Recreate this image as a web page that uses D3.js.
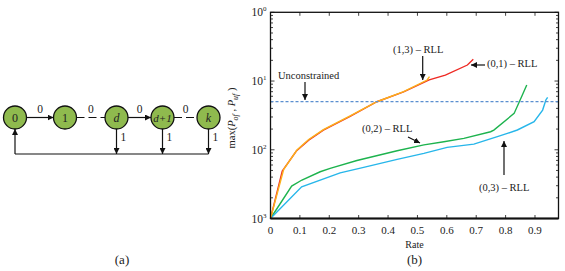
<!DOCTYPE html>
<html>
<head>
<meta charset="utf-8">
<script src="https://cdn.jsdelivr.net/npm/d3@7"></script>
<style>
  body { margin: 0; background: #fff; }
  svg text { font-family: "Liberation Serif", "Times New Roman", serif; fill: #222; }
</style>
</head>
<body>
<svg id="chart" width="565" height="271"></svg>
<script>
// ---- data for panel (b) ----
let rateRLL01 = [0, 0.04, 0.088, 0.13, 0.18, 0.271, 0.362, 0.453, 0.54, 0.595, 0.67, 0.69];
let valRLL01  = [0.001, 0.0049, 0.0096, 0.0138, 0.0193, 0.0305, 0.05, 0.0695, 0.104, 0.122, 0.171, 0.207];

let rateRLL13 = [0, 0.045, 0.09, 0.13, 0.18, 0.271, 0.362, 0.453, 0.533, 0.541];
let valRLL13  = [0.001, 0.0052, 0.0099, 0.0141, 0.0196, 0.031, 0.05, 0.0699, 0.1035, 0.116];

let rateRLL02 = [0, 0.072, 0.107, 0.169, 0.203, 0.294, 0.431, 0.522, 0.590, 0.658, 0.749, 0.760, 0.829, 0.857, 0.872];
let valRLL02  = [0.001, 0.00296, 0.00363, 0.00479, 0.00536, 0.00697, 0.00966, 0.0118, 0.0131, 0.01466, 0.0183, 0.0193, 0.0338, 0.0625, 0.0873];

let rateRLL03 = [0, 0.106, 0.237, 0.317, 0.431, 0.522, 0.601, 0.692, 0.772, 0.806, 0.840, 0.897, 0.926, 0.937, 0.943];
let valRLL03  = [0.001, 0.00289, 0.00462, 0.00555, 0.00724, 0.00887, 0.01084, 0.0121, 0.0155, 0.0173, 0.0194, 0.0256, 0.0378, 0.053, 0.058];

let unconstrained = 0.05;
let xTicks = [0, 0.1, 0.2, 0.3, 0.4, 0.5, 0.6, 0.7, 0.8, 0.9];
let yDecades = [1e-3, 1e-2, 1e-1, 1];
let yTickLabels = ["3", "2", "1", "0"];

// ---- data for panel (a): state diagram ----
let stateLabels = ["0", "1", "d", "d+1", "k"];
let stateX = [15, 65, 116.5, 162.5, 208.5];
let stateItalic = [false, false, true, true, true];
let edgeFrom = [0, 1, 2, 3];
let edgeDashed = [false, true, false, true];
let resetStates = [2, 3, 4];

const svg = d3.select("#chart");

// arrow marker
const defs = svg.append("defs");
defs.append("marker")
    .attr("id", "arrow")
    .attr("viewBox", "0 0 10 10")
    .attr("refX", 10).attr("refY", 5)
    .attr("markerWidth", 6).attr("markerHeight", 6)
    .attr("markerUnits", "userSpaceOnUse")
    .attr("orient", "auto")
  .append("path")
    .attr("d", "M0,0 L10,5 L0,10 z")
    .attr("fill", "#111");

// ================= panel (a) =================
let nodeY = 117.5, r = 11.5, loopY = 154;
let ga = svg.append("g");

edgeFrom.forEach((f, i) => {
  let x1 = stateX[f] + r, x2 = stateX[f + 1] - r;
  if (edgeDashed[i]) {
    ga.append("line")
      .attr("x1", x1).attr("x2", x2).attr("y1", nodeY).attr("y2", nodeY)
      .attr("stroke", "#111").attr("stroke-width", 1.2)
      .attr("stroke-dasharray", "8,4");
  } else {
    ga.append("line")
      .attr("x1", x1).attr("x2", x2).attr("y1", nodeY).attr("y2", nodeY)
      .attr("stroke", "#111").attr("stroke-width", 1.2)
      .attr("marker-end", "url(#arrow)");
  }
  ga.append("text")
    .attr("x", (x1 + x2) / 2).attr("y", nodeY - 5)
    .attr("text-anchor", "middle").attr("font-size", 11.5)
    .text("0");
});

// reset transitions on 1
resetStates.forEach(s => {
  ga.append("line")
    .attr("x1", stateX[s]).attr("x2", stateX[s])
    .attr("y1", nodeY + r).attr("y2", loopY)
    .attr("stroke", "#111").attr("stroke-width", 1.2)
    .attr("marker-end", "url(#arrow)");
  ga.append("text")
    .attr("x", stateX[s] + 4).attr("y", 141)
    .attr("font-size", 11.5).text("1");
});
ga.append("line")
  .attr("x1", stateX[0]).attr("x2", stateX[4])
  .attr("y1", loopY).attr("y2", loopY)
  .attr("stroke", "#111").attr("stroke-width", 1.2);
ga.append("line")
  .attr("x1", stateX[0]).attr("x2", stateX[0])
  .attr("y1", loopY).attr("y2", nodeY + r)
  .attr("stroke", "#111").attr("stroke-width", 1.2)
  .attr("marker-end", "url(#arrow)");

stateLabels.forEach((lab, i) => {
  ga.append("circle")
    .attr("cx", stateX[i]).attr("cy", nodeY).attr("r", r)
    .attr("fill", "#8fba4e").attr("stroke", "#111").attr("stroke-width", 1.3);
  ga.append("text")
    .attr("x", stateX[i]).attr("y", nodeY + 4)
    .attr("text-anchor", "middle")
    .attr("font-size", lab.length > 1 ? 11 : 12)
    .attr("font-style", stateItalic[i] ? "italic" : "normal")
    .text(lab);
});

ga.append("text")
  .attr("x", 122).attr("y", 264)
  .attr("text-anchor", "middle").attr("font-size", 13)
  .text("(a)");

// ================= panel (b) =================
let pLeft = 270.5, pRight = 558.5, pTop = 12.3, pBottom = 218.5;

let x = d3.scaleLinear().domain([0, 0.98]).range([pLeft, pRight]);
let y = d3.scaleLog().domain([1e-3, 1]).range([pBottom, pTop]);

let gb = svg.append("g");

// minor log ticks (both sides)
let minor = [];
yDecades.slice(0, 3).forEach(d => { for (let m = 2; m <= 9; m++) minor.push(d * m); });

let tickLines = gb.append("g").attr("stroke", "#111").attr("stroke-width", 0.8);
minor.forEach(v => {
  tickLines.append("line").attr("x1", pLeft).attr("x2", pLeft + 2.5).attr("y1", y(v)).attr("y2", y(v));
  tickLines.append("line").attr("x1", pRight).attr("x2", pRight - 2.5).attr("y1", y(v)).attr("y2", y(v));
});
yDecades.forEach(v => {
  tickLines.append("line").attr("x1", pLeft).attr("x2", pLeft + 4).attr("y1", y(v)).attr("y2", y(v));
  tickLines.append("line").attr("x1", pRight).attr("x2", pRight - 4).attr("y1", y(v)).attr("y2", y(v));
});
xTicks.forEach(v => {
  tickLines.append("line").attr("x1", x(v)).attr("x2", x(v)).attr("y1", pBottom).attr("y2", pBottom - 3.5);
  tickLines.append("line").attr("x1", x(v)).attr("x2", x(v)).attr("y1", pTop).attr("y2", pTop + 3.5);
});

// curves
let line = d3.line().x(d => x(d[0])).y(d => y(d[1]));
let series = [
  { r: rateRLL02, v: valRLL02, c: "#1db34e" },
  { r: rateRLL03, v: valRLL03, c: "#27b6ea" },
  { r: rateRLL01, v: valRLL01, c: "#ee2a24" },
  { r: rateRLL13, v: valRLL13, c: "#fbb11b" }
];
series.forEach(s => {
  gb.append("path")
    .datum(s.r.map((rv, i) => [rv, s.v[i]]))
    .attr("d", line)
    .attr("fill", "none")
    .attr("stroke", s.c)
    .attr("stroke-width", 1.4);
});

// unconstrained line
gb.append("line")
  .attr("x1", pLeft).attr("x2", pRight)
  .attr("y1", y(unconstrained)).attr("y2", y(unconstrained))
  .attr("stroke", "#5b8fd0").attr("stroke-width", 1.2)
  .attr("stroke-dasharray", "3,2");

// frame
gb.append("rect")
  .attr("x", pLeft).attr("y", pTop)
  .attr("width", pRight - pLeft).attr("height", pBottom - pTop)
  .attr("fill", "none").attr("stroke", "#111").attr("stroke-width", 1.3);
gb.append("line")
  .attr("x1", pLeft).attr("x2", pRight).attr("y1", pBottom).attr("y2", pBottom)
  .attr("stroke", "#111").attr("stroke-width", 2);

// x tick labels
xTicks.forEach(v => {
  gb.append("text")
    .attr("x", x(v)).attr("y", pBottom + 15)
    .attr("text-anchor", "middle").attr("font-size", 11)
    .text(v === 0 ? "0" : d3.format(".1f")(v));
});

// y tick labels: 10 with superscript
yDecades.forEach((v, i) => {
  let t = gb.append("text")
    .attr("x", pLeft - 4).attr("y", y(v) + 4)
    .attr("text-anchor", "end").attr("font-size", 11.5);
  t.append("tspan").text("10");
  t.append("tspan").attr("dy", -5).attr("font-size", 7).text(yTickLabels[i]);
});

// axis titles
gb.append("text")
  .attr("x", x(0.49)).attr("y", 248)
  .attr("text-anchor", "middle").attr("font-size", 10).text("Rate");
gb.append("text")
  .attr("x", x(0.49)).attr("y", 264)
  .attr("text-anchor", "middle").attr("font-size", 13).text("(b)");

let yl = gb.append("text")
  .attr("transform", "translate(235,118) rotate(-90)")
  .attr("text-anchor", "middle").attr("font-size", 10.5);
yl.append("tspan").text("max(");
yl.append("tspan").attr("font-style", "italic").text("P");
yl.append("tspan").attr("font-style", "italic").attr("font-size", 8).attr("dy", 3).text("of");
yl.append("tspan").attr("dy", -3).text(" , ");
yl.append("tspan").attr("font-style", "italic").text("P");
yl.append("tspan").attr("font-style", "italic").attr("font-size", 8).attr("dy", 3).text("uf");
yl.append("tspan").attr("dy", -3).text(" )");

// annotations
function annot(txt, tx, ty, ax1, ay1, ax2, ay2) {
  gb.append("text").attr("x", tx).attr("y", ty)
    .attr("font-size", 10.5).text(txt);
  gb.append("line")
    .attr("x1", ax1).attr("y1", ay1).attr("x2", ax2).attr("y2", ay2)
    .attr("stroke", "#111").attr("stroke-width", 1.2)
    .attr("marker-end", "url(#arrow)");
}
annot("Unconstrained", 278, 79, 305, 82, 305, 100);
annot("(1,3) \u2013 RLL", 393, 53, 422.7, 56, 422.7, 80);
annot("(0,1) \u2013 RLL", 487, 67, 485, 65, 471, 65);
annot("(0,2) \u2013 RLL", 362, 132, 408, 137, 420, 143);
annot("(0,3) \u2013 RLL", 479, 191, 504, 175, 504, 141);
</script>
</body>
</html>
